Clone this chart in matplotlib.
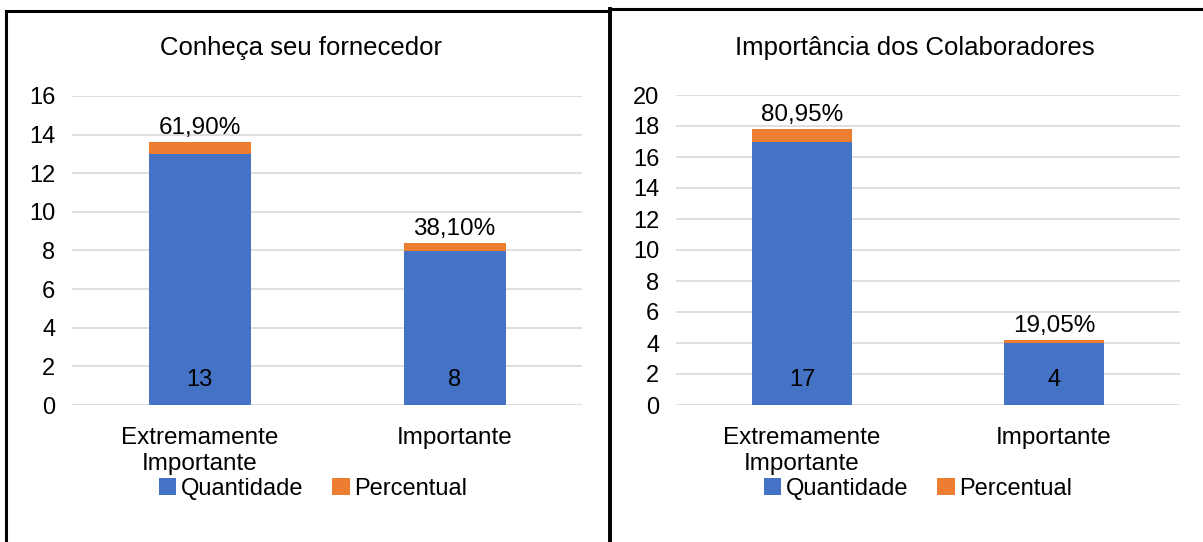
import numpy as np
import matplotlib.pyplot as plt
from matplotlib.lines import Line2D

plt.rcParams['font.family'] = ['Liberation Sans', 'DejaVu Sans']

categories = ['Extremamente\nImportante', 'Importante']

titles = ['Conheça seu fornecedor', 'Importância dos Colaboradores']
quantidade = [[13, 8], [17, 4]]
percentual = [[0.6190, 0.3810], [0.8095, 0.1905]]
ymax = [16, 20]

BLUE = '#4472C4'
ORANGE = '#ED7D31'
W, H = 1203, 542


def fx(px):
    return px / W


def fy(py):
    return 1 - py / H


def draw_panel(ax, title, qtd, pct, top):
    x = np.arange(len(categories))
    ax.bar(x, qtd, width=0.4, color=BLUE, label='Quantidade', zorder=3)
    ax.bar(x, pct, width=0.4, bottom=qtd, color=ORANGE, label='Percentual', zorder=3)

    for xi, q, p in zip(x, qtd, pct):
        ax.annotate(str(q), (xi, 0), xytext=(0, 25), textcoords='offset pixels',
                    ha='center', va='center', fontsize=17)
        ax.annotate(f'{p * 100:.2f}%'.replace('.', ','), (xi, q + p), xytext=(0, 14),
                    textcoords='offset pixels', ha='center', va='center', fontsize=17.5)

    ax.set_xlim(-0.5, 1.5)
    ax.set_ylim(0, top)
    ax.set_yticks(np.arange(0, top + 1, 2))
    ax.set_xticks(x)
    ax.set_xticklabels(categories, linespacing=1.25, fontsize=17.5)
    ax.tick_params(axis='both', length=0)
    ax.tick_params(axis='y', pad=12, labelsize=17)
    ax.tick_params(axis='x', pad=16)
    ax.grid(axis='y', color='#D9D9D9', linewidth=1.2, zorder=0)
    for s in ax.spines.values():
        s.set_visible(False)


def main():
    fig = plt.figure(figsize=(W / 100, H / 100), dpi=100)

    # axes boxes in pixels: left, right, y of zero, y of top
    boxes = [(72, 582, 405, 96), (676, 1180, 405, 95)]
    legend_x = [313, 918]
    title_x = [301, 915]

    for i, (l, r, b, t) in enumerate(boxes):
        ax = fig.add_axes([fx(l), fy(b), fx(r - l), (b - t) / H])
        draw_panel(ax, titles[i], quantidade[i], percentual[i], ymax[i])
        fig.text(fx(title_x[i]), fy(48), titles[i], ha='center', va='center', fontsize=18.5)
        handles, labels = ax.get_legend_handles_labels()
        fig.legend(handles, labels, loc='center', bbox_to_anchor=(fx(legend_x[i]), fy(489)),
                   ncol=2, frameon=False, fontsize=17, handlelength=0.75, handleheight=0.75,
                   handletextpad=0.2, columnspacing=1.2)

    # panel borders
    lw = 2.2
    fig.add_artist(Line2D([fx(6), fx(6)], [fy(11), 0], color='black', lw=lw))
    fig.add_artist(Line2D([fx(6), fx(610)], [fy(11), fy(11)], color='black', lw=lw))
    fig.add_artist(Line2D([fx(610), fx(610)], [fy(9), 0], color='black', lw=2.8))
    fig.add_artist(Line2D([fx(610), 1], [fy(9), fy(9)], color='black', lw=lw))

    fig.savefig('out.png', dpi=100, facecolor='white')


if __name__ == '__main__':
    main()
